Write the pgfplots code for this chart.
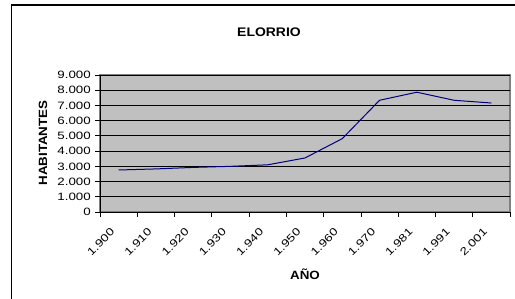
\documentclass[border=0pt]{standalone}
\usepackage{fontspec}
\setmainfont{Liberation Sans}
\newfontfamily\tickf{Liberation Sans}[FakeStretch=1.25]
\newfontfamily\labf{Liberation Sans}[FakeStretch=1.12]
\usepackage{pgfplots}
\pgfplotsset{compat=1.18}
\definecolor{bggray}{HTML}{C0C0C0}
\definecolor{bordergray}{HTML}{808080}
\definecolor{linenavy}{HTML}{000080}
\begin{document}
\begin{tikzpicture}[x=1bp,y=1bp]
\useasboundingbox (0,0) rectangle (515,298);
\draw[black,line width=1.2bp] (11.5,-2) -- (11.5,293) -- (520,293);
\begin{axis}[
  at={(100bp,86bp)}, anchor=south west,
  scale only axis, width=410bp, height=137bp,
  xmin=0.5, xmax=11.5, ymin=0, ymax=9000,
  axis x line*=bottom, axis y line*=left,
  axis line style={black, line width=0.8bp},
  axis background/.style={fill=bggray, draw=bordergray, line width=1.5bp},
  xtick={1,...,11},
  xticklabels={1.900,1.910,1.920,1.930,1.940,1.950,1.960,1.970,1.981,1.991,2.001},
  minor xtick={0.5,1.5,...,11.5},
  every major x tick/.append style={draw=none},
  every minor x tick/.append style={black, line width=0.8bp},
  tick align=outside,
  major tick length=5bp, minor tick length=5bp,
  ytick={0,1000,...,9000},
  yticklabels={0,1.000,2.000,3.000,4.000,5.000,6.000,7.000,8.000,9.000},
  ytick style={black, line width=0.8bp},
  ymajorgrids,
  major grid style={black, line width=0.8bp},
  yticklabel style={font=\tickf\fontsize{10.7}{12}\selectfont, inner sep=0pt, xshift=-4bp},
  xticklabel style={font=\tickf\fontsize{10.7}{12}\selectfont, inner sep=0pt, xshift=-6bp, yshift=-13bp, rotate=45, anchor=east},
  clip=false,
]
\addplot[linenavy, line width=1bp] coordinates {
(1,2760) (2,2830) (3,2930) (4,3000) (5,3100) (6,3550) (7,4820) (8,7340) (9,7870) (10,7340) (11,7160)
};
\end{axis}
\node[font=\labf\bfseries\fontsize{12.5}{14}\selectfont] at (269,266) {ELORRIO};
\node[font=\labf\bfseries\fontsize{12}{14}\selectfont, rotate=90] at (43,155) {HABITANTES};
\node[font=\labf\bfseries\fontsize{12}{14}\selectfont] at (305,24) {AÑO};
\end{tikzpicture}
\end{document}
